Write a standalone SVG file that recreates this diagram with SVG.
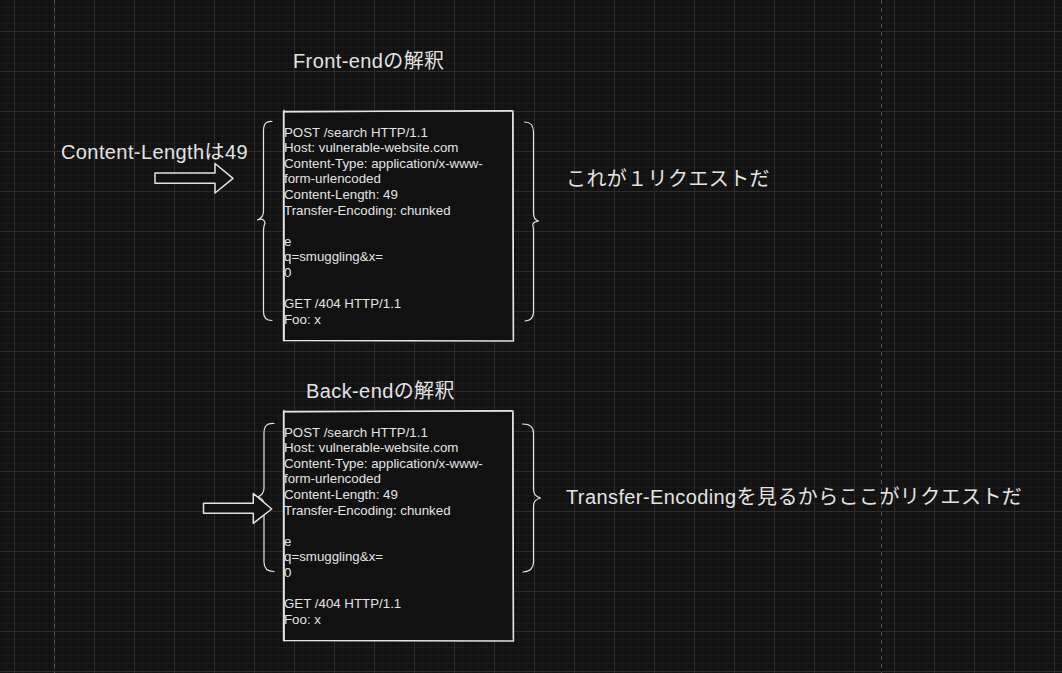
<svg xmlns="http://www.w3.org/2000/svg" width="1062" height="673" viewBox="0 0 1062 673">
<defs>
<pattern id="grid" x="14" y="31" width="40" height="40" patternUnits="userSpaceOnUse">
<rect width="40" height="40" fill="#121212"/>
<path d="M8.5 0V40M16.5 0V40M24.5 0V40M32.5 0V40M0 8.5H40M0 16.5H40M0 24.5H40M0 32.5H40" stroke="#1a1a1a" stroke-width="1"/>
<path d="M0.5 0V40M0 0.5H40" stroke="#2c2c2c" stroke-width="1"/>
</pattern>
</defs>
<style>
.t{font-family:"Liberation Sans","Noto Sans CJK JP",sans-serif;fill:#e3e3e3;}
.big{font-size:20px;letter-spacing:0.4px;}
.jp{font-family:"Noto Sans CJK JP","Liberation Sans",sans-serif;}
.code{font-size:13.3px;}
.box{fill:#111111;stroke:#e3e3e3;stroke-width:1.4;stroke-linejoin:round;}
.rough{fill:none;stroke:#e3e3e3;stroke-width:1.2;stroke-linecap:round;stroke-linejoin:round;}
.arrow{fill:#121212;stroke:#e3e3e3;stroke-width:1.5;stroke-linejoin:round;}
.dash{stroke:#555;stroke-width:1;stroke-dasharray:4 4;}
</style>
<rect width="1062" height="673" fill="url(#grid)"/>
<line class="dash" x1="54.5" y1="0" x2="54.5" y2="673"/>
<line class="dash" x1="881.5" y1="0" x2="881.5" y2="673"/>

<g id="front-title"><text class="t big" x="293" y="68">Front-endの解釈</text></g>

<g id="front-box">
<path class="box" d="M283.5 111.5 L513 111 L513.5 341 L283.5 340.5 Z"/>
<path class="rough" d="M285 112 L512 110.6 M512.6 113 L513.3 339 M284 110 L284.3 341"/>
<text class="t code" x="284" y="136.5">
<tspan x="284" dy="0">POST /search HTTP/1.1</tspan>
<tspan x="284" dy="15.6">Host: vulnerable-website.com</tspan>
<tspan x="284" dy="15.6">Content-Type: application/x-www-</tspan>
<tspan x="284" dy="15.6">form-urlencoded</tspan>
<tspan x="284" dy="15.6">Content-Length: 49</tspan>
<tspan x="284" dy="15.6">Transfer-Encoding: chunked</tspan>
<tspan x="284" dy="31.2">e</tspan>
<tspan x="284" dy="15.6">q=smuggling&amp;x=</tspan>
<tspan x="284" dy="15.6">0</tspan>
<tspan x="284" dy="31.2">GET /404 HTTP/1.1</tspan>
<tspan x="284" dy="15.6">Foo: x</tspan>
</text>
</g>

<g id="front-braces">
<path class="rough" d="M272 121.5 C266 121 263.5 124 263.5 131 L263.5 211 C263.5 216 261.5 218.5 257.5 220 C260 219 264 218 265 223 L264 226 C263.5 228 263.5 230 263.5 233 L263.5 312 C263.5 318 266 320.5 272 320.5"/>
<path class="rough" d="M524.5 122 C530.5 122 533.5 125 533.5 132 L533.5 213 C533.5 218 535 220 538.5 221 C535 222 532 222.5 533 226 L533.5 230 L533.5 312 C533.5 318 531 320.5 525 321"/>
</g>

<g id="back-title"><text class="t big" x="306" y="398">Back-endの解釈</text></g>

<g id="back-box">
<path class="box" d="M283.5 411.5 L513 411 L513.5 641 L283.5 640.5 Z"/>
<path class="rough" d="M285 412 L512 410.6 M512.6 413 L513.3 639 M284 410 L284.3 641"/>
<text class="t code" x="284" y="436.5">
<tspan x="284" dy="0">POST /search HTTP/1.1</tspan>
<tspan x="284" dy="15.6">Host: vulnerable-website.com</tspan>
<tspan x="284" dy="15.6">Content-Type: application/x-www-</tspan>
<tspan x="284" dy="15.6">form-urlencoded</tspan>
<tspan x="284" dy="15.6">Content-Length: 49</tspan>
<tspan x="284" dy="15.6">Transfer-Encoding: chunked</tspan>
<tspan x="284" dy="31.2">e</tspan>
<tspan x="284" dy="15.6">q=smuggling&amp;x=</tspan>
<tspan x="284" dy="15.6">0</tspan>
<tspan x="284" dy="31.2">GET /404 HTTP/1.1</tspan>
<tspan x="284" dy="15.6">Foo: x</tspan>
</text>
</g>

<g id="back-braces">
<path class="rough" d="M274 423.5 C267 423 264 426 264 433 L264 488 C264 493 262 495 258 497 C262 498 264 500 264 505 L264 562 C264 568 267 571.5 274 571.5"/>
<path class="rough" d="M522.5 424 C529 424 533.5 426 533.5 433 L533.5 489 C533.5 494 535 496 540.5 498 C536 499 533.5 501 533.5 506 L533.5 562 C533.5 568 531 571.5 523 572"/>
</g>

<g id="label-content-length"><text class="t big" x="61" y="159">Content-Lengthは49</text></g>
<g id="label-one-request"><text class="t big jp" x="566" y="186">これが１リクエストだ</text></g>
<g id="label-transfer-encoding"><text class="t big" x="566" y="504">Transfer-Encoding<tspan class="jp">を見るからここがリクエストだ</tspan></text></g>

<g id="connectors">
<path class="arrow" d="M155 173 L215 173 L215 163.5 L233 178.3 L215 193 L215 183.3 L155 183.3 Z"/>
<path class="arrow" d="M203.5 503.3 L253.3 503.3 L253.3 493.5 L271.7 509 L253.3 523.3 L253.3 513.3 L203.5 513.3 Z"/>
</g>
</svg>
